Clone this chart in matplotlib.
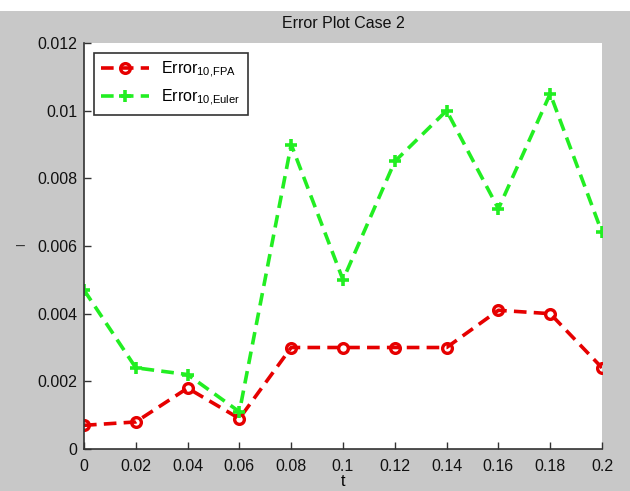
import matplotlib
matplotlib.use('Agg')
import matplotlib.pyplot as plt
from matplotlib.patches import Rectangle

plt.rcParams['font.family'] = ['Liberation Sans', 'DejaVu Sans']
plt.rcParams['mathtext.fontset'] = 'custom'
plt.rcParams['mathtext.rm'] = 'Liberation Sans'
plt.rcParams['mathtext.it'] = 'Liberation Sans'

t = [0, 0.02, 0.04, 0.06, 0.08, 0.1, 0.12, 0.14, 0.16, 0.18, 0.2]
err_fpa = [0.0007, 0.0008, 0.0018, 0.0009, 0.0030, 0.0030, 0.0030, 0.0030, 0.0041, 0.0040, 0.0024]
err_euler = [0.0047, 0.0024, 0.0022, 0.0011, 0.0090, 0.0050, 0.0085, 0.0100, 0.0071, 0.0105, 0.0064]
xticks = [0, 0.02, 0.04, 0.06, 0.08, 0.1, 0.12, 0.14, 0.16, 0.18, 0.2]
xlabels = ['0', '0.02', '0.04', '0.06', '0.08', '0.1', '0.12', '0.14', '0.16', '0.18', '0.2']
yticks = [0, 0.002, 0.004, 0.006, 0.008, 0.01, 0.012]
ylabels = ['0', '0.002', '0.004', '0.006', '0.008', '0.01', '0.012']

gray = '#c8c8c8'
fig = plt.figure(figsize=(6.3, 4.91), dpi=100, facecolor=gray)
# white strip along the top edge
fig.patches.append(Rectangle((0, 1 - 11 / 491), 1, 11 / 491, transform=fig.transFigure,
                             facecolor='white', edgecolor='none', zorder=-1))
ax = fig.add_axes([84 / 630, 42 / 491, 518 / 630, 406 / 491])

ax.plot(t, err_fpa, color='#e60000', ls='--', lw=2.6, marker='o', ms=7,
        mfc='none', mew=2.4, dashes=(3.5, 2), label=r'Error$_{\mathrm{10{,}FPA}}$')
ax.plot(t, err_euler, color='#22ee22', ls='--', lw=2.6, marker='+', ms=8,
        mew=2.6, dashes=(3.5, 2), label=r'Error$_{\mathrm{10{,}Euler}}$')

ax.set_xlim(0, 0.2)
ax.set_ylim(0, 0.012)
ax.set_xticks(xticks)
ax.set_xticklabels(xlabels)
ax.set_yticks(yticks)
ax.set_yticklabels(ylabels)
ax.tick_params(direction='in', labelsize=11.5, length=5, width=1, colors='#333333',
               labelcolor='#111111', pad=7)
ax.tick_params(axis='y', pad=5)
ax.spines['top'].set_visible(False)
ax.spines['right'].set_visible(False)
for s in ('left', 'bottom'):
    ax.spines[s].set_color('#333333')
    ax.spines[s].set_linewidth(1.2)

ax.set_title('Error Plot Case 2', fontsize=11.5, pad=11, color='#111111')
ax.set_xlabel('t', fontsize=11.5, labelpad=0.5)
ax.set_ylabel('–', fontsize=11.5, rotation=0, labelpad=12, va='center', color='#333333')

leg = ax.legend(loc='upper left', fontsize=11.5, fancybox=False, framealpha=1,
                edgecolor='#333333', borderaxespad=0.6, handlelength=3.0,
                borderpad=0.45, labelspacing=0.45)
leg.get_frame().set_linewidth(1.2)

plt.savefig('out.png', dpi=100, facecolor=gray)
